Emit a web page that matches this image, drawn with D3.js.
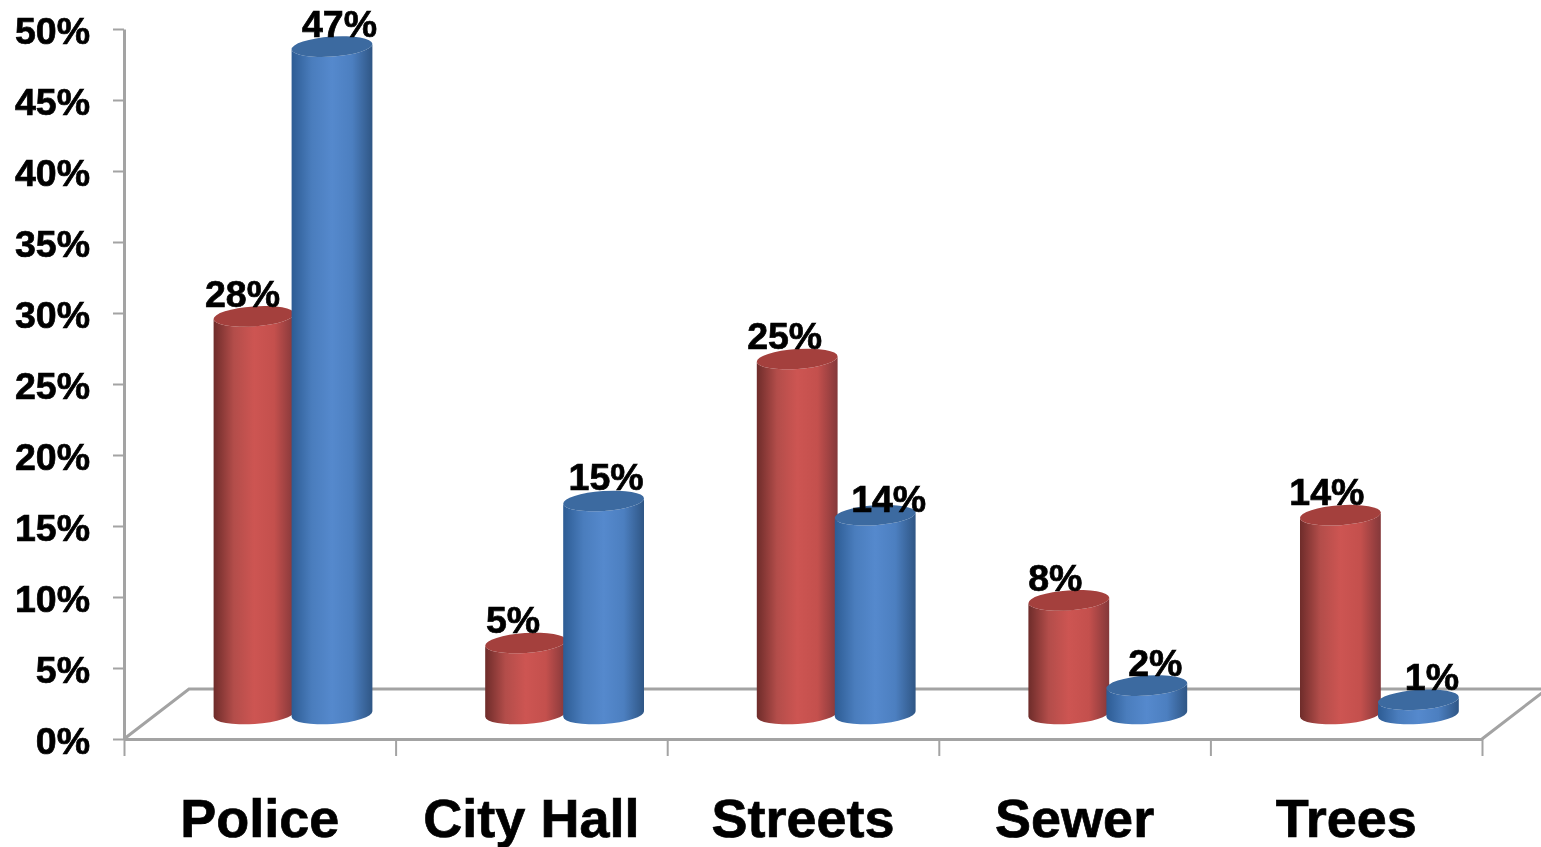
<!DOCTYPE html>
<html>
<head>
<meta charset="utf-8">
<script src="https://cdn.jsdelivr.net/npm/d3@7"></script>
<style>
  html, body { margin: 0; background: #fff; overflow: hidden; }
  svg { display: block; filter: blur(0.5px); }
  text { font-family: "Liberation Sans", Arial, sans-serif; font-weight: bold; fill: #000; stroke: #000; stroke-width: 0.7px; }
</style>
</head>
<body>
<script>
const categories = ["Police", "City Hall", "Streets", "Sewer", "Trees"];
const redValues = [28, 5, 25, 8, 14];
const blueValues = [47, 15, 14, 2, 1];
const yTicks = [0, 5, 10, 15, 20, 25, 30, 35, 40, 45, 50];

const width = 1541, height = 847;
const left = 124, right = 1482, top0 = 29, bottom0 = 739;
const depthX = 65, depthY = 50;   // floor of the fake 3d box
const barLift = 25;               // cylinders stand inside the floor
const rx = 40.5, ry = 10, tilt = 4;

const svg = d3.select("body").append("svg")
  .attr("width", width)
  .attr("height", height);

const x = d3.scaleBand().domain(categories).range([left, right]);
const xEdges = d3.scaleLinear().domain([0, categories.length]).range([left, right]);
const y = d3.scaleLinear().domain([0, 50]).range([bottom0, top0]);

const series = [
  { name: "red", values: redValues, dx: 129.5, top: "#a4403d",
    labelShift: [[-11, 1], [-12, 1], [-12, 1], [-13, 1], [-13, 1]],
    stops: ["#6e2c2a", "#b34d4a", "#cd5552", "#c4504d", "#84383a"] },
  { name: "blue", values: blueValues, dx: 207.5, top: "#3c6aa0",
    labelShift: [[8, 1], [3, 0], [14, 8], [9, 1], [14, 1]],
    stops: ["#2d5c94", "#4a7dbd", "#5589cd", "#4c7fc0", "#2f5685"] }
];

// gradients for the cylinder sides
const defs = svg.append("defs");
series.forEach(s => {
  const grad = defs.append("linearGradient").attr("id", "side-" + s.name);
  grad.selectAll("stop")
    .data(s.stops)
    .join("stop")
    .attr("offset", (d, i) => i / (s.stops.length - 1))
    .attr("stop-color", d => d);
});

// floor back and side edges
const gridColor = "#a3a3a3";
const floor = d3.path();
floor.moveTo(left, bottom0);
floor.lineTo(left + depthX, bottom0 - depthY);
floor.lineTo(right + depthX, bottom0 - depthY);
floor.lineTo(right, bottom0);
svg.append("path")
  .attr("d", floor.toString())
  .attr("fill", "none")
  .attr("stroke", gridColor)
  .attr("stroke-width", 3);

// axes
const yAxis = svg.append("g")
  .attr("transform", `translate(${left},0)`)
  .call(d3.axisLeft(y).tickValues(yTicks).tickFormat(d => d + "%").tickSize(11).tickSizeOuter(0).tickPadding(23));
yAxis.selectAll("text").style("font-size", "37.5px").attr("dy", "0.38em");

const xTickAxis = svg.append("g")
  .attr("transform", `translate(0,${bottom0})`)
  .call(d3.axisBottom(xEdges).ticks(categories.length).tickFormat("").tickSize(17).tickSizeOuter(0));

const xAxis = svg.append("g")
  .attr("transform", `translate(0,${bottom0})`)
  .call(d3.axisBottom(x).tickSize(0).tickPadding(60));
xAxis.selectAll("text").style("font-size", "54px");
xAxis.select(".domain").remove();

svg.selectAll(".domain, .tick line")
  .attr("stroke", gridColor)
  .attr("stroke-width", 3);
svg.selectAll(".tick line").attr("stroke-width", 2);

const rad = tilt * Math.PI / 180;
const ex = rx * Math.cos(rad), ey = rx * Math.sin(rad);

function sidePath(cx, yTop, yBase) {
  return `M${cx - ex},${yTop + ey}` +
    `L${cx - ex},${yBase + ey}` +
    `A${rx},${ry} ${-tilt} 0 0 ${cx + ex},${yBase - ey}` +
    `L${cx + ex},${yTop - ey}` +
    `A${rx},${ry} ${-tilt} 0 1 ${cx - ex},${yTop + ey}Z`;
}

// cylinders, red first so the blue one sits over it
series.forEach(s => {
  const g = svg.append("g").attr("class", "bars-" + s.name);
  const bar = g.selectAll("g")
    .data(s.values)
    .join("g");

  bar.append("path")
    .attr("d", (d, i) => sidePath(x(categories[i]) + s.dx + 0.5, y(d) - barLift, y(0) - barLift))
    .attr("fill", `url(#side-${s.name})`);

  bar.append("ellipse")
    .attr("rx", rx)
    .attr("ry", ry)
    .attr("fill", s.top)
    .attr("transform", (d, i) => `translate(${x(categories[i]) + s.dx + 0.5},${y(d) - barLift}) rotate(${-tilt})`);
});

// data labels on top of everything
series.forEach(s => {
  svg.append("g").selectAll("text")
    .data(s.values)
    .join("text")
    .attr("x", (d, i) => x(categories[i]) + s.dx + s.labelShift[i][0])
    .attr("y", (d, i) => y(d) - barLift - 24 + s.labelShift[i][1])
    .attr("dy", "0.35em")
    .attr("text-anchor", "middle")
    .style("font-size", "37.5px")
    .text(d => d + "%");
});
</script>
</body>
</html>
